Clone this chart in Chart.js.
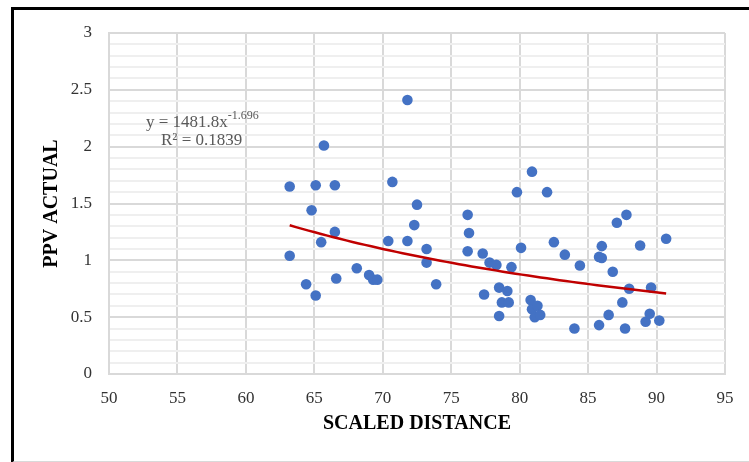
<!DOCTYPE html>
<html lang="en">
<head>
    <meta charset="UTF-8">
    <title>PPV vs Scaled Distance</title>
    <script src="https://cdn.jsdelivr.net/npm/chart.js"></script>
    <style>
        html, body { margin: 0; padding: 0; background: #fff; overflow: hidden; }
        #wrap { position: relative; width: 749px; height: 462px; }
        #frame {
            position: absolute; left: 11px; top: 7px; width: 800px; height: 451px;
            border-top: 3px solid #000; border-left: 3px solid #000; border-bottom: 2px solid #d9d9d9;
            pointer-events: none;
        }
        canvas { position: absolute; left: 0; top: 0; }
    </style>
</head>
<body>
<div id="wrap">
    <canvas id="chart" width="749" height="462"></canvas>
    <div id="frame"></div>
</div>

<script>
    const scaledDistance = [
        63.2, 63.2, 65.1, 64.8, 65.7, 66.5, 66.5, 65.5, 64.4, 65.1,
        66.6, 68.1, 69.0, 69.3, 69.6, 70.4, 70.7, 71.8, 71.8, 72.3,
        72.5, 73.2, 73.2, 73.9, 76.2, 76.3, 76.2, 77.3, 77.4, 77.8,
        78.3, 78.5, 78.5, 78.7, 79.1, 79.2, 79.4, 79.8, 80.1, 80.9,
        80.8, 80.9, 81.1, 81.3, 81.5, 82.0, 82.5, 83.3, 84.0, 84.4,
        85.8, 86.0, 86.0, 85.8, 86.5, 86.8, 87.1, 87.5, 87.7, 87.8,
        88.0, 88.8, 89.2, 89.5, 89.6, 90.2, 90.7
    ];
    const ppvActual = [
        1.65, 1.04, 1.66, 1.44, 2.01, 1.66, 1.25, 1.16, 0.79, 0.69,
        0.84, 0.93, 0.87, 0.83, 0.83, 1.17, 1.69, 2.41, 1.17, 1.31,
        1.49, 1.10, 0.98, 0.79, 1.40, 1.24, 1.08, 1.06, 0.70, 0.98,
        0.96, 0.76, 0.51, 0.63, 0.73, 0.63, 0.94, 1.60, 1.11, 1.78,
        0.65, 0.57, 0.50, 0.60, 0.52, 1.60, 1.16, 1.05, 0.40, 0.955,
        1.03, 1.02, 1.125, 0.43, 0.52, 0.90, 1.33, 0.63, 0.40, 1.40,
        0.75, 1.13, 0.46, 0.53, 0.76, 0.47, 1.19
    ];
    const xTicks = [50, 55, 60, 65, 70, 75, 80, 85, 90, 95];
    const yTickLabels = ['0', '0.5', '1', '1.5', '2', '2.5', '3'];

    // power trendline as printed on the chart
    const trendA = 1481.8;
    const trendB = -1.696;
    const trendR2 = 0.1839;

    const points = scaledDistance.map((x, i) => ({ x: x, y: ppvActual[i] }));

    const xMin = Math.min(...scaledDistance);
    const xMax = Math.max(...scaledDistance);
    const trendPoints = [];
    for (let i = 0; i <= 60; i++) {
        const x = xMin + (xMax - xMin) * i / 60;
        trendPoints.push({ x: x, y: trendA * Math.pow(x, trendB) });
    }

    const isMajor = v => Math.abs(v * 2 - Math.round(v * 2)) < 1e-6;

    // equation / R² label like Excel's trendline label
    const equationLabel = {
        id: 'equationLabel',
        afterDatasetsDraw(chart) {
            const ctx = chart.ctx;
            const area = chart.chartArea;
            ctx.save();
            ctx.fillStyle = '#595959';
            ctx.textBaseline = 'alphabetic';
            ctx.font = '17px "Liberation Serif", serif';
            const x0 = area.left + 37;
            const main = 'y = ' + trendA.toFixed(1) + 'x';
            ctx.fillText(main, x0, area.top + 94);
            const w = ctx.measureText(main).width;
            ctx.font = '12px "Liberation Serif", serif';
            ctx.fillText(trendB.toFixed(3), x0 + w, area.top + 86);
            ctx.font = '17px "Liberation Serif", serif';
            ctx.fillText('R\u00B2 = ' + trendR2.toFixed(4), x0 + 15, area.top + 112);
            ctx.restore();
        }
    };

    new Chart(document.getElementById('chart'), {
        type: 'scatter',
        data: {
            datasets: [
                {
                    label: 'Trend',
                    type: 'line',
                    data: trendPoints,
                    borderColor: '#C00000',
                    borderWidth: 2.5,
                    pointRadius: 0,
                    fill: false,
                    tension: 0,
                    order: 0
                },
                {
                    label: 'PPV',
                    data: points,
                    backgroundColor: '#4472C4',
                    borderWidth: 0,
                    pointRadius: 5.3,
                    order: 1
                }
            ]
        },
        options: {
            responsive: false,
            animation: false,
            layout: { padding: { left: 0, right: 24, top: 33, bottom: 0 } },
            plugins: {
                legend: { display: false },
                tooltip: { enabled: false }
            },
            scales: {
                x: {
                    type: 'linear',
                    min: 50,
                    max: 95,
                    afterFit: s => { s.height = 88; },
                    afterBuildTicks: s => { s.ticks = xTicks.map(v => ({ value: v })); },
                    grid: { color: '#d9d9d9', lineWidth: 2, drawTicks: false },
                    border: { color: '#d9d9d9', width: 2 },
                    ticks: {
                        padding: 14,
                        color: '#333',
                        font: { family: '"Liberation Serif", serif', size: 17 }
                    },
                    title: {
                        display: true,
                        text: 'SCALED DISTANCE',
                        color: '#000',
                        font: { family: '"Liberation Serif", serif', size: 20, weight: 'bold' },
                        padding: { top: 0, bottom: 26 }
                    }
                },
                y: {
                    min: 0,
                    max: 3,
                    afterFit: s => { s.width = 109; },
                    grid: {
                        color: c => isMajor(c.tick.value) ? '#d9d9d9' : '#efefef',
                        lineWidth: 2,
                        drawTicks: false
                    },
                    border: { color: '#d9d9d9', width: 2 },
                    ticks: {
                        stepSize: 0.1,
                        autoSkip: false,
                        padding: 17,
                        color: '#333',
                        font: { family: '"Liberation Serif", serif', size: 17 },
                        callback: v => isMajor(v) ? yTickLabels[Math.round(v * 2)] : ''
                    },
                    title: {
                        display: true,
                        text: 'PPV ACTUAL',
                        color: '#000',
                        font: { family: '"Liberation Serif", serif', size: 20, weight: 'bold' },
                        padding: { top: 40, bottom: 0 }
                    }
                }
            }
        },
        plugins: [equationLabel]
    });
</script>
</body>
</html>
